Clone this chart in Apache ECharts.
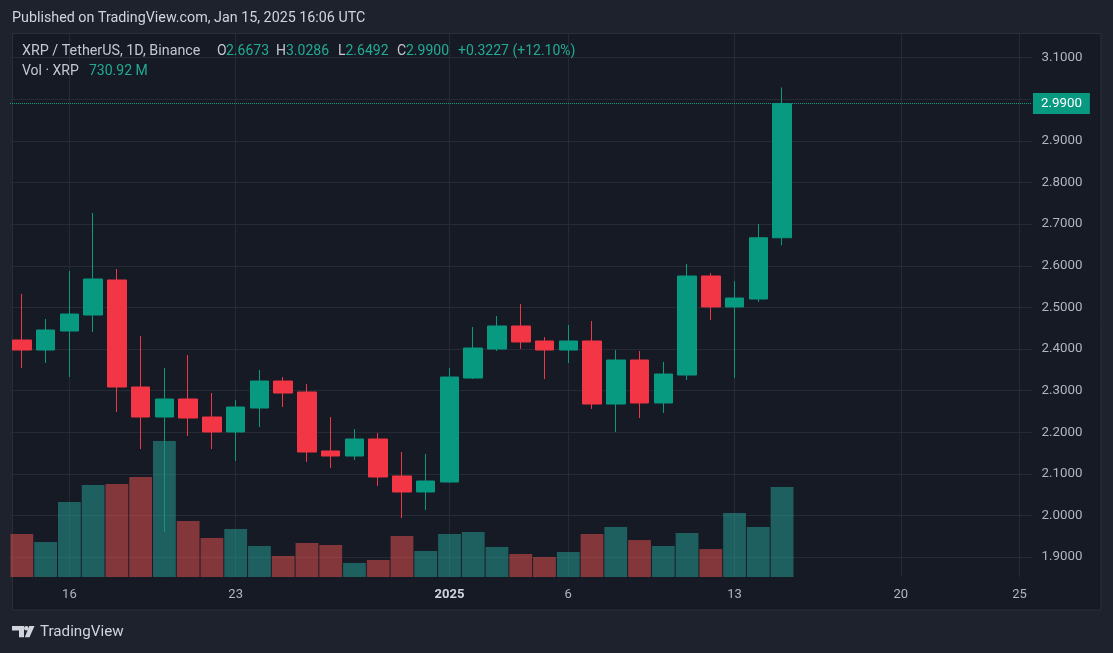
<!DOCTYPE html>
<html><head><meta charset="utf-8">
<script src="https://cdn.jsdelivr.net/npm/echarts@6/dist/echarts.min.js"></script>
<style>html,body{margin:0;padding:0;background:#1e222d;}#c{width:1113px;height:653px;}</style>
</head><body><div id="c"></div>
<script>
const dates = ['Dec 14','Dec 15','Dec 16','Dec 17','Dec 18','Dec 19','Dec 20','Dec 21','Dec 22','Dec 23','Dec 24','Dec 25','Dec 26','Dec 27','Dec 28','Dec 29','Dec 30','Dec 31',
  'Jan 1','Jan 2','Jan 3','Jan 4','Jan 5','Jan 6','Jan 7','Jan 8','Jan 9','Jan 10','Jan 11','Jan 12','Jan 13','Jan 14','Jan 15',
  'Jan 16','Jan 17','Jan 18','Jan 19','Jan 20','Jan 21','Jan 22','Jan 23','Jan 24','Jan 25'];
const opens  = [2.4216,2.3975,2.4432,2.4816,2.5658,2.3086,2.2365,2.2798,2.2365,2.2005,2.2581,2.3230,2.2966,2.1548,2.1428,2.1836,2.0947,2.0563,2.0803,2.3302,2.3999,2.4552,2.4192,2.3975,2.4192,2.2677,2.3735,2.2702,2.3374,2.5754,2.5009,2.5201,2.6673];
const closes = [2.3975,2.4456,2.4840,2.5682,2.3086,2.2365,2.2798,2.2341,2.2005,2.2605,2.3230,2.2942,2.1524,2.1428,2.1836,2.0923,2.0563,2.0827,2.3326,2.4023,2.4552,2.4168,2.3975,2.4192,2.2677,2.3735,2.2702,2.3398,2.5754,2.5009,2.5225,2.6673,2.9900];
const highs  = [2.5321,2.4720,2.5874,2.7268,2.5922,2.4312,2.3543,2.3855,2.2942,2.2774,2.3495,2.3326,2.3158,2.2365,2.2077,2.1981,2.1524,2.1476,2.3543,2.4528,2.4792,2.5081,2.4288,2.4576,2.4672,2.3975,2.3951,2.3687,2.6042,2.5826,2.5633,2.7003,3.0286];
const lows   = [2.3543,2.3663,2.3326,2.4408,2.2485,2.1596,1.9601,2.1908,2.1596,2.1308,2.2125,2.2605,2.1284,2.1139,2.1332,2.0707,1.9938,2.0130,2.0780,2.3280,2.3951,2.3999,2.3278,2.3663,2.2557,2.2005,2.2341,2.2461,2.3254,2.4696,2.3302,2.5129,2.6492];
const volumes = [349,284,609,747,755,812,1104,455,317,390,252,171,276,260,114,138,333,211,349,365,244,187,162,203,349,406,300,252,357,227,520,406,730.92];
const priceTicks = [1.9,2.0,2.1,2.2,2.3,2.4,2.5,2.6,2.7,2.8,2.9,3.0,3.1];
const tickDates = ['Dec 16','Dec 23','Jan 1','Jan 6','Jan 13','Jan 20','Jan 25'];
const tickLabels = ['16','23','2025','6','13','20','25'];
const lastClose = 2.99;
const lastVolume = 730.92;

const UP = '#089981', DOWN = '#f23645';
const GRID = '#262a35';
const chart = echarts.init(document.getElementById('c'), null, {renderer:'canvas'});

const candleData = opens.map((o,i)=>[o, closes[i], lows[i], highs[i]]);
const volData = volumes.map((v,i)=>({value:v, itemStyle:{color: closes[i]>=opens[i] ? 'rgba(38,166,154,0.5)' : 'rgba(239,83,80,0.5)'}}));

const FONT = 'Roboto';
function txt(x, y, s, fill, size, weight){
  return {type:'text', x:x, y:y, z:50, silent:true, style:{text:s, fill:fill, font:(weight||'normal')+' '+size+'px '+FONT, align:'left', verticalAlign:'middle'}};
}
const TEAL_T = '#22ab94';
const LBL = '#c5c8d0';

chart.setOption({
  animation:false,
  backgroundColor:'#1e222d',
  grid:{left:10, right:81.5, top:34, bottom:76, containLabel:false},
  xAxis:{type:'category', data:dates, boundaryGap:true,
    axisLine:{show:false}, axisTick:{show:false}, splitLine:{show:false},
    axisLabel:{color:'#b2b5be', fontSize:13, fontFamily:FONT, margin:11,
      interval:(idx, val)=>tickDates.indexOf(val)>=0,
      formatter:(val)=>{const k=tickDates.indexOf(val); if(k<0) return ''; const t=tickLabels[k]; return t==='2025' ? '{b|'+t+'}' : t;},
      rich:{b:{fontWeight:'bold', color:'#d1d4dc', fontSize:13, fontFamily:FONT}}}},
  yAxis:[
    {type:'value', min:1.852, max:3.157, show:false},
    {type:'value', min:0, max:lastVolume*543/90, show:false}
  ],
  graphic:[
    {type:'rect', z:-10, silent:true, shape:{x:12.5, y:33.5, width:1088.5, height:576.5}, style:{fill:'#161a25', stroke:'#2a2e39', lineWidth:1}},
    txt(12, 18, 'Published on TradingView.com, Jan 15, 2025 16:06 UTC', '#d1d4dc', 14.3),
    txt(22, 51.5, 'XRP / TetherUS, 1D, Binance', LBL, 14.3),
    txt(217, 51.5, 'O', LBL, 14), txt(226, 51.5, '2.6673', TEAL_T, 14),
    txt(276, 51.5, 'H', LBL, 14), txt(286, 51.5, '3.0286', TEAL_T, 14),
    txt(338, 51.5, 'L', LBL, 14), txt(345.5, 51.5, '2.6492', TEAL_T, 14),
    txt(397, 51.5, 'C', LBL, 14), txt(406, 51.5, '2.9900', TEAL_T, 14),
    txt(458, 51.5, '+0.3227 (+12.10%)', TEAL_T, 14),
    txt(22, 71.5, 'Vol · XRP', LBL, 14), txt(89, 71.5, '730.92 M', TEAL_T, 14),
    {type:'polygon', z:50, silent:true, shape:{points:[[12,626],[24,626],[24,637.3],[19,637.3],[19,630.5],[12,630.5]]}, style:{fill:'#d1d4dc'}},
    {type:'circle', z:50, silent:true, shape:{cx:26.3, cy:628.3, r:2.3}, style:{fill:'#d1d4dc'}},
    {type:'polygon', z:50, silent:true, shape:{points:[[29.3,626],[34.5,626],[29.5,637.3],[24.8,637.3]]}, style:{fill:'#d1d4dc'}},
    txt(40, 632, 'TradingView', '#d1d4dc', 15.2)
  ],
  series:[
    {name:'grid', type:'line', data:[], xAxisIndex:0, yAxisIndex:0, z:1, silent:true,
      markLine:{z:1, symbol:'none', silent:true, animation:false, precision:4,
        lineStyle:{color:GRID, width:1, type:'solid'},
        label:{show:true, position:'end', distance:10, color:'#b2b5be', fontSize:13.3, fontFamily:FONT,
          formatter:(p)=>Number(p.value).toFixed(4)},
        emphasis:{disabled:true},
        data: priceTicks.map(v=>({yAxis:v})).concat(tickDates.map(d=>({xAxis:d, label:{show:false}})))}},
    {name:'Vol', type:'bar', data:volData, xAxisIndex:0, yAxisIndex:1, barWidth:'96%', z:2, silent:true},
    {name:'XRP', type:'candlestick', data:candleData, xAxisIndex:0, yAxisIndex:0, z:3, barWidth:19, silent:true,
      itemStyle:{color:UP, color0:DOWN, borderColor:UP, borderColor0:DOWN, borderWidth:1},
      markLine:{z:6, symbol:'none', silent:true, animation:false, precision:4,
        lineStyle:{color:UP, width:1, type:'dotted'},
        label:{show:true, position:'end', distance:1.5, color:'#ffffff', backgroundColor:UP, padding:[4,8,4,8], fontSize:13.3, fontFamily:FONT,
          formatter:()=>lastClose.toFixed(4)},
        emphasis:{disabled:true},
        data:[{yAxis:lastClose}]}},
    {name:'volLabel', type:'line', data:[], xAxisIndex:0, yAxisIndex:1, z:10, silent:true,
      markLine:{z:10, symbol:'none', silent:true, animation:false, precision:2,
        lineStyle:{opacity:0},
        label:{show:true, position:'end', distance:1.5, color:'#ffffff', backgroundColor:'#22ab94', padding:[4,6,4,6], fontSize:13.3, fontFamily:FONT,
          formatter:()=>lastVolume.toFixed(2)+' M'},
        emphasis:{disabled:true},
        data:[{yAxis:lastVolume}]}}
  ]
});
</script></body></html>
